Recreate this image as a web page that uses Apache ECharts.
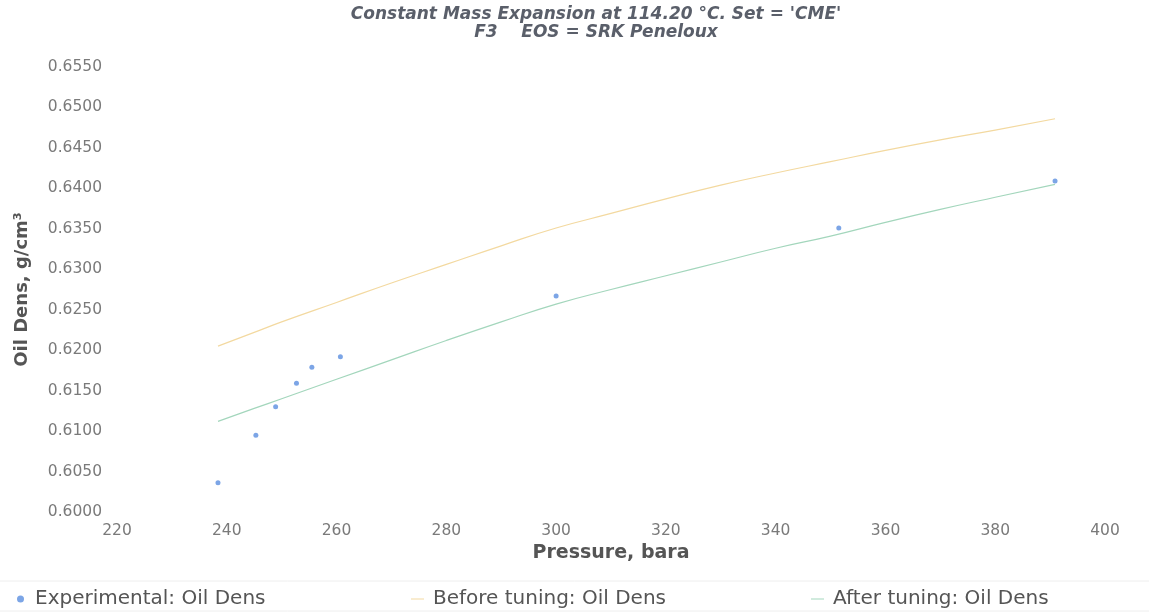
<!DOCTYPE html>
<html><head><meta charset="utf-8">
<script src="https://cdn.jsdelivr.net/npm/echarts@6/dist/echarts.min.js"></script>
<style>html,body{margin:0;padding:0;background:#fff}#c{width:1149px;height:613px}</style>
</head><body><div id="c"></div>
<script>
const expPressure = [238.4, 245.3, 248.9, 252.7, 255.5, 260.7, 300.0, 351.5, 390.9];
const expDensity  = [0.6036, 0.6095, 0.6130, 0.6159, 0.6179, 0.6192, 0.6267, 0.6351, 0.6409];
const linePressure = [238.4, 245, 250, 260, 270, 280, 290, 300, 310, 320, 330, 340, 350, 360, 370, 380, 390.9];
const beforeDensity = [0.6205, 0.6222, 0.6235, 0.6259, 0.6283, 0.6306, 0.6329, 0.6351, 0.6369, 0.6387, 0.6404, 0.6419, 0.6433, 0.6447, 0.6460, 0.6472, 0.6486];
const afterDensity  = [0.6112, 0.6128, 0.6140, 0.6164, 0.6188, 0.6212, 0.6235, 0.6257, 0.6275, 0.6292, 0.6309, 0.6326, 0.6341, 0.6358, 0.6374, 0.6389, 0.6405];
const titleLines = ["Constant Mass Expansion at 114.20 °C. Set = 'CME'", "F3    EOS = SRK Peneloux"];
const names = ["Experimental: Oil Dens", "Before tuning: Oil Dens", "After tuning: Oil Dens"];

const zip = (a, b) => a.map((v, i) => [v, b[i]]);
const chart = echarts.init(document.getElementById('c'));
const font = '"DejaVu Sans", sans-serif';
chart.setOption({
  animation: false,
  backgroundColor: '#fff',
  title: {
    text: titleLines.join('\n'), left: 591, textAlign: 'center', top: 1,
    textStyle: { fontFamily: font, fontSize: 17, fontWeight: 'bold', fontStyle: 'italic', color: '#5a5f6a', lineHeight: 18 }
  },
  grid: { left: 117, right: 44, top: 67, bottom: 101, containLabel: false },
  xAxis: {
    type: 'value', min: 220, max: 400, interval: 20,
    name: 'Pressure, bara', nameLocation: 'middle', nameGap: 31,
    nameTextStyle: { fontFamily: font, fontSize: 19, fontWeight: 'bold', color: '#555' },
    axisLine: { show: false }, axisTick: { show: false }, splitLine: { show: false },
    axisLabel: { fontFamily: font, fontSize: 15.5, color: '#7a7a7a', margin: 11 }
  },
  yAxis: {
    type: 'value', min: 0.6, max: 0.655, interval: 0.005,
    name: 'Oil Dens, g/cm³', nameLocation: 'middle', nameGap: 86,
    nameTextStyle: { fontFamily: font, fontSize: 18, fontWeight: 'bold', color: '#555' },
    axisLine: { show: false }, axisTick: { show: false }, splitLine: { show: false },
    axisLabel: { fontFamily: font, fontSize: 15.5, color: '#7a7a7a', margin: 15, formatter: v => v.toFixed(4) }
  },
  legend: [
    { data: [{ name: names[0], icon: 'circle' }], left: 12, top: 584, itemWidth: 7, itemHeight: 7,
      textStyle: { fontFamily: font, fontSize: 20, color: '#555', padding: [0, 0, 0, 6] } },
    { data: [{ name: names[1], icon: 'rect' }], left: 406, top: 584, itemWidth: 13, itemHeight: 1,
      textStyle: { fontFamily: font, fontSize: 20, color: '#555', padding: [0, 0, 0, 4] } },
    { data: [{ name: names[2], icon: 'rect' }], left: 806, top: 584, itemWidth: 13, itemHeight: 1,
      textStyle: { fontFamily: font, fontSize: 20, color: '#555', padding: [0, 0, 0, 4] } }
  ],
  graphic: [
    { type: 'line', shape: { x1: 0, y1: 581, x2: 1149, y2: 581 }, style: { stroke: '#eeeeee', lineWidth: 1 } },
    { type: 'line', shape: { x1: 0, y1: 611, x2: 1149, y2: 611 }, style: { stroke: '#eeeeee', lineWidth: 1 } }
  ],
  series: [
    { name: names[0], type: 'scatter', data: zip(expPressure, expDensity), symbolSize: 5,
      itemStyle: { color: '#5b8ee0' }, z: 5 },
    { name: names[1], type: 'line', data: zip(linePressure, beforeDensity), smooth: true, showSymbol: false,
      lineStyle: { width: 1.2, color: '#f3d9a0' }, itemStyle: { color: '#f3d9a0' } },
    { name: names[2], type: 'line', data: zip(linePressure, afterDensity), smooth: true, showSymbol: false,
      lineStyle: { width: 1.2, color: '#a3d6bc' }, itemStyle: { color: '#a3d6bc' } }
  ]
});
</script></body></html>
